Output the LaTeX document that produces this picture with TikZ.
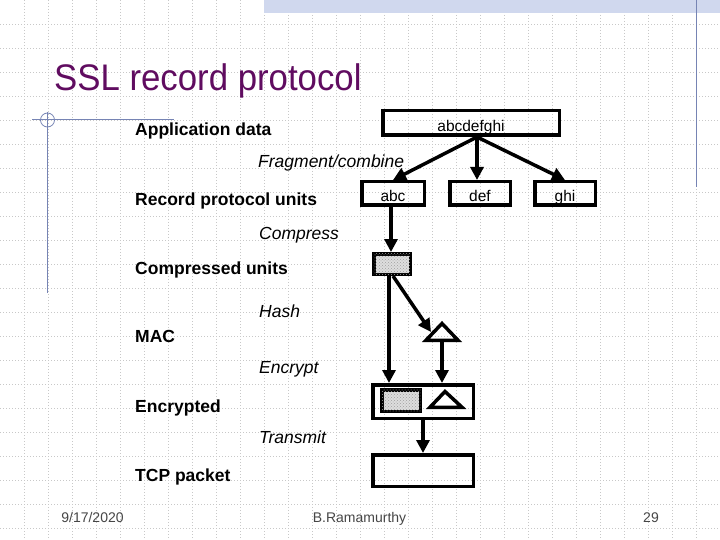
\documentclass[tikz,border=0pt]{standalone}
\usepackage{fontspec}
\setmainfont{Liberation Sans}
\usetikzlibrary{arrows.meta,patterns}
\definecolor{ttl}{RGB}{96,12,96}
\definecolor{deco}{RGB}{118,132,180}
\definecolor{band}{RGB}{208,216,238}
\definecolor{gridc}{RGB}{200,200,200}
\definecolor{foot}{RGB}{70,70,70}
\definecolor{cmpfill}{RGB}{222,222,222}
\begin{document}
\begin{tikzpicture}[x=1pt,y=-1pt,
  gridline/.style={gridc,line width=0.8pt,dash pattern=on 1pt off 2pt},
  lbl/.style={anchor=base west,inner sep=0,font=\fontsize{17.5}{20}\selectfont\bfseries},
  act/.style={anchor=base west,inner sep=0,font=\fontsize{17.5}{20}\selectfont\itshape},
  bx/.style={draw,line width=3.5pt,inner sep=0,text height=17pt,text depth=0pt,font=\fontsize{15.5}{18}\selectfont},
  grey/.style={fill=cmpfill,postaction={pattern=crosshatch dots,pattern color=gray!75}},
  tri/.style={line width=3.5pt,line join=miter},
  arr/.style={line width=3.5pt,-{Triangle[length=13pt,width=13pt]}},
  ft/.style={anchor=base,inner sep=0,font=\fontsize{14}{16}\selectfont,text=foot}]
\useasboundingbox (0,0) rectangle (720,540);
\fill[white] (0,0) rectangle (720,540);
% background grid
\foreach \i in {24,48,...,696} \draw[gridline] (\i,0) -- (\i,540);
\foreach \j in {24,48,...,528} \draw[gridline] (0,\j) -- (720,\j);
% slide decorations
\fill[band] (264,0) rectangle (720,13);
\draw[deco,line width=1.5pt] (696.5,0) -- (696.5,187);
\draw[deco,line width=1pt] (32,120) -- (174,120);
\draw[deco,line width=1pt] (47.5,112) -- (47.5,293);
\draw[deco,line width=0.8pt] (47.5,120) circle (7);
% title
\node[anchor=base west,inner sep=0,text=ttl,font=\fontsize{37}{40}\selectfont] (title) at (54,90.7) {\scalebox{0.94}[1]{SSL record protocol}};
% labels
\node[lbl] (l1) at (135,136) {Application data};
\node[act] (a1) at (258,168) {Fragment/combine};
\node[lbl] (l2) at (135,205.5) {Record protocol units};
\node[act] (a2) at (259,240) {Compress};
\node[lbl] (l3) at (135,274) {Compressed units};
\node[act] (a3) at (259,317) {Hash};
\node[lbl] (l4) at (135,342) {MAC};
\node[act] (a4) at (259,373) {Encrypt};
\node[lbl] (l5) at (135,412) {Encrypted};
\node[act] (a5) at (259,443) {Transmit};
\node[lbl] (l6) at (135,481) {TCP packet};
% boxes
\node[bx,minimum width=176.5,minimum height=24.5] (all) at (471,123) {abcdefghi};
\node[bx,minimum width=62.5,minimum height=23.5] (abc) at (393,193.5) {abc};
\node[bx,minimum width=60.5,minimum height=23.5] (def) at (480,193.5) {def};
\node[bx,minimum width=60.5,minimum height=23.5] (ghi) at (565,193.5) {ghi};
\node[bx,grey,minimum width=36.5,minimum height=20.5] (cmp) at (392,264) {};
\draw[tri] (442,323.5) -- (458,340.25) -- (426,340.25) -- cycle;
\coordinate (macl) at (431,332);
\coordinate (macb) at (442,342);
\node[bx,minimum width=100.5,minimum height=33.5] (enc) at (423,401.5) {};
\node[bx,grey,minimum width=38.5,minimum height=21.5] (encd) at (401,400.5) {};
\draw[tri] (445,391.5) -- (462,407.25) -- (430,407.25) -- cycle;
\node[bx,minimum width=100.5,minimum height=31.5] (tcp) at (423,470.5) {};
% connectors
\coordinate (o) at ([xshift=6pt]all.south);
\draw[arr] (o) -- (abc.north);
\draw[arr] (o) -- (o |- def.north);
\draw[arr] (o) -- (ghi.north);
\draw[arr] ([xshift=-2pt]abc.south) -- ([xshift=-1pt]cmp.north);
\draw[arr] ([xshift=1pt]cmp.south) -- (macl);
\draw[arr] ([xshift=-3pt]cmp.south) -- ([xshift=-3pt]cmp.south |- enc.north);
\draw[arr] (macb) -- (macb |- enc.north);
\draw[arr] (enc.south) -- (tcp.north);
% footer
\node[ft] (f1) at (92.5,522) {9/17/2020};
\node[ft] (f2) at (359.5,522) {B.Ramamurthy};
\node[ft] (f3) at (651,522) {29};
\end{tikzpicture}
\end{document}
